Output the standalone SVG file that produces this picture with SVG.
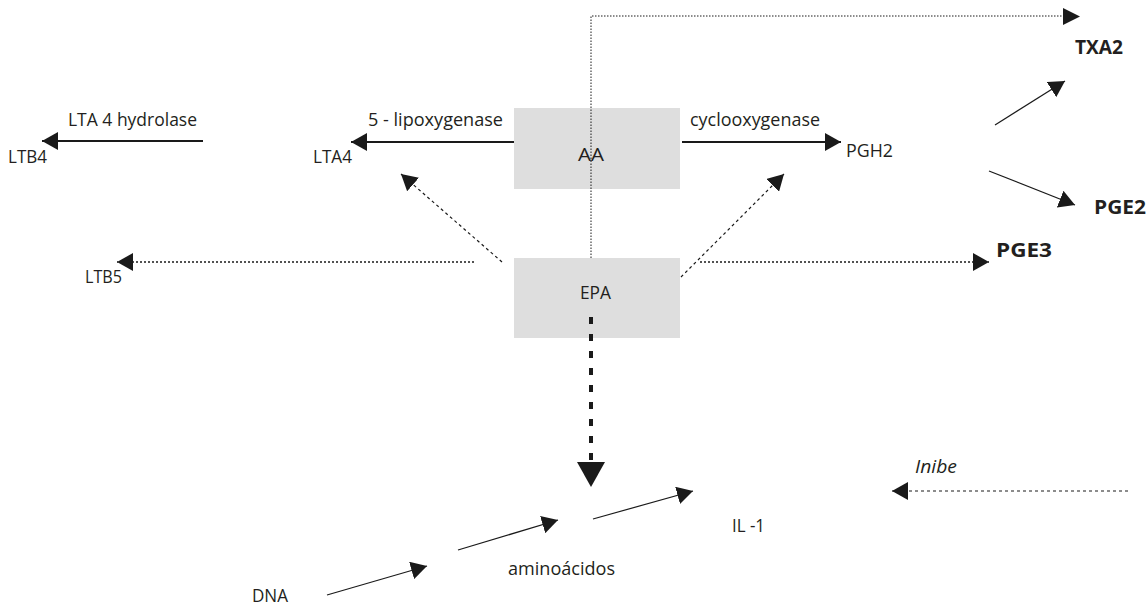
<svg xmlns="http://www.w3.org/2000/svg" width="1146" height="605" viewBox="0 0 1146 605">
<style>
text{font-family:"Open Sans","Noto Sans",sans-serif;font-size:17.5px;fill:#231f20}
.b{font-weight:bold;font-size:19px}
.i{font-style:italic}
.box{fill:#dedede}
.ln{fill:none;stroke:#1a1a1a}
.s2{stroke-width:2;marker-end:url(#a)}
.s1{stroke-width:1.2;marker-end:url(#a)}
.dot{stroke-width:1;stroke-dasharray:1.5 1.5}
.dsh{stroke-width:1.2;stroke-dasharray:3 3;marker-end:url(#a)}
.dt2{stroke-width:1.4;stroke-dasharray:2 2;marker-end:url(#a)}
</style>
<defs>
<marker id="a" markerUnits="userSpaceOnUse" markerWidth="17" markerHeight="18" refX="16" refY="9" orient="auto"><path d="M0,0 L16,9 L0,18 z" fill="#1a1a1a"/></marker>
<marker id="big" markerUnits="userSpaceOnUse" markerWidth="26" markerHeight="28" refX="25" refY="14" orient="auto"><path d="M0,0 L25,14 L0,28 z" fill="#1a1a1a"/></marker>
</defs>
<rect width="1146" height="605" fill="#fff"/>
<g id="AA"><rect class="box" x="514" y="108" width="166" height="81"/><text x="578" y="161" textLength="26" lengthAdjust="spacingAndGlyphs">AA</text></g>
<g id="EPA"><rect class="box" x="514" y="258" width="166" height="80"/><text x="580" y="299" textLength="31" lengthAdjust="spacingAndGlyphs">EPA</text></g>
<g id="connectors">
<path class="ln s2" d="M203,141 H42"/>
<path class="ln s2" d="M514,142 H351"/>
<path class="ln s2" d="M682,142 H841"/>
<path class="ln dot" d="M591,258 V16 H1064"/>
<path d="M1063,8 L1080,16.5 L1063,25 z" fill="#1a1a1a"/>
<path class="ln s1" d="M995,125 L1065,81"/>
<path class="ln s1" d="M989,171 L1075,205"/>
<path class="ln dsh" d="M502,262 L401,174"/>
<path class="ln dsh" d="M681,277 L784,174"/>
<path class="ln dt2" d="M474,262 H117"/>
<path class="ln dt2" d="M700,262 H989"/>
<path class="ln" d="M591,317 V487" stroke-width="4" stroke-dasharray="7 10" marker-end="url(#big)"/>
<path class="ln s1" d="M327,595 L427,566"/>
<path class="ln s1" d="M458,550 L558,520"/>
<path class="ln s1" d="M593,519 L693,491"/>
<path class="ln dsh" d="M1128,491 H892"/>
</g>
<g id="LTA4hydrolase"><text x="68" y="126" textLength="129" lengthAdjust="spacingAndGlyphs">LTA 4 hydrolase</text></g>
<g id="LTB4"><text x="8" y="163" textLength="39" lengthAdjust="spacingAndGlyphs">LTB4</text></g>
<g id="lipoxygenase"><text x="368" y="126" textLength="135" lengthAdjust="spacingAndGlyphs">5 - lipoxygenase</text></g>
<g id="LTA4"><text x="313" y="163" textLength="39" lengthAdjust="spacingAndGlyphs">LTA4</text></g>
<g id="cyclooxygenase"><text x="690" y="126" textLength="130" lengthAdjust="spacingAndGlyphs">cyclooxygenase</text></g>
<g id="PGH2"><text x="846" y="157" textLength="47" lengthAdjust="spacingAndGlyphs">PGH2</text></g>
<g id="TXA2"><text class="b" x="1075" y="54" textLength="48" lengthAdjust="spacingAndGlyphs">TXA2</text></g>
<g id="PGE2"><text class="b" x="1094" y="214" textLength="52" lengthAdjust="spacingAndGlyphs">PGE2</text></g>
<g id="PGE3"><text class="b" x="996" y="257" textLength="56" lengthAdjust="spacingAndGlyphs">PGE3</text></g>
<g id="LTB5"><text x="85" y="283" textLength="37" lengthAdjust="spacingAndGlyphs">LTB5</text></g>
<g id="aminoacidos"><text x="508" y="575" textLength="107" lengthAdjust="spacingAndGlyphs">aminoácidos</text></g>
<g id="IL1"><text x="732" y="532" textLength="33" lengthAdjust="spacingAndGlyphs">IL -1</text></g>
<g id="DNA"><text x="252" y="602" textLength="36" lengthAdjust="spacingAndGlyphs">DNA</text></g>
<g id="Inibe"><text class="i" x="915" y="473" textLength="42" lengthAdjust="spacingAndGlyphs">Inibe</text></g>
</svg>
